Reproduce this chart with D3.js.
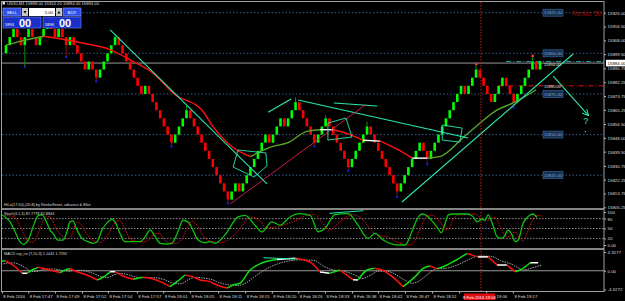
<!DOCTYPE html>
<html>
<head>
<meta charset="utf-8">
<script src="https://d3js.org/d3.v7.min.js"></script>
<style>
html, body { margin: 0; padding: 0; background: #000; }
svg { display: block; font-family: "Liberation Sans", Arial, sans-serif; }
</style>
</head>
<body>
<div id="chart"></div>
<script>
// renko bricks (box 5 pts) - close of each brick
var closes = [15905,15910,15915,15910,15905,15910,15915,15910,15905,15910,
  15915,15920,15915,15910,15915,15910,15905,15910,15905,15900,
  15895,15890,15895,15890,15885,15890,15895,15900,15905,15910,
  15905,15900,15895,15890,15885,15880,15875,15880,15875,15870,
  15865,15860,15855,15850,15845,15850,15855,15860,15865,15860,
  15855,15850,15845,15840,15835,15830,15825,15820,15815,15810,
  15815,15820,15815,15820,15825,15830,15835,15840,15845,15850,
  15845,15850,15855,15860,15855,15860,15865,15870,15865,15860,
  15855,15850,15845,15850,15855,15860,15855,15850,15845,15840,
  15835,15830,15835,15840,15845,15850,15855,15850,15845,15840,
  15835,15830,15825,15820,15815,15820,15825,15830,15835,15840,
  15845,15840,15835,15840,15845,15850,15855,15860,15865,15870,
  15875,15880,15875,15880,15885,15890,15885,15880,15875,15870,
  15875,15880,15885,15880,15875,15870,15875,15880,15885,15890,
  15895,15890,15895];

// wicks
var lowIdx  = [5, 16, 24, 44, 59, 82, 91, 104, 112, 135];
var lowVal  = [15892, 15898, 15883, 15843, 15808, 15843, 15828, 15812, 15832, 15867];
var highIdx = [11, 29, 48, 77, 85, 96, 125, 140];
var highVal = [15922, 15912, 15868, 15873, 15862, 15858, 15893, 15898];
var redMarkIdx = [125, 140];

// moving average
var maIdx = [0,4,10,20,28,34,39,45,52,55,60,65,71,75,80,83.5,87,91.5,95,99.5,104,108,112,115.5,121.5,126,130.5,135,141];
var maVal = [15905,15907.5,15910.5,15906.5,15902,15894.7,15888,15874.5,15865.4,15855,15842.7,15836.5,15842.7,15845,15852,15853,15853,15850,15846.5,15846,15841,15835.5,15835.5,15836.6,15848,15857,15865,15869.6,15877.6];

// price axis
var priceTicks = [15925.00,15916.50,15908.00,15899.50,15890.75,15882.25,15873.75,15865.25,15856.50,15848.00,15839.50,15830.75,15822.25,15813.75,15805.25];
var levelPrices = [15925, 15900, 15875, 15850, 15825];
var lastPrice = 15894.00;
var tpPrice = 15895;
var slPrice = 15880;

// stochastic
var stochIdx = [-1.6,1.1,2.4,3.7,4.5,5.9,7.2,8.5,9.6,10.9,11.7,12.5,13.8,15.2,16.2,17,17.8,18.9,20.2,21.8,
  23.1,24.2,25.5,27.1,28.2,29,30.3,31.6,33,34.8,35.6,37,38.3,39.6,41,42.8,44.1,45.7,47.1,48.4,
  49.7,51.1,52.9,54.3,55.6,58.2,61.7,63.6,66.2,68,70.7,72.9,75.5,78.2,80.9,83,84.8,87.5,91,93.6,
  96.3,98.1,100.3,102.9,104.8,106.2,107.4,108.8,110.1,110.9,112.2,113.5,114.9,115.7,116.8,117.6,118.9,122.6,124.2,125.3,
  126.6,127.4,128.2,129.3,130.6,131.9,132.7,133.5,134.6,135.4,136.2,137.5,138.8,140.1,141.2];
var stochMain = [94,70,40,10,2,15,55,88,91,66,45,35,15,15,40,70,73,45,20,10,
  5,10,45,70,78,70,35,10,10,10,10,25,45,27,5,3,5,40,75,70,
  45,15,7,10,5,30,85,90,60,40,70,60,85,95,90,40,50,92,95,60,
  20,35,15,2,0,0,25,66,91,94,86,70,50,37,66,91,94,94,86,70,
  78,75,91,66,25,20,30,45,30,10,15,66,86,94,84];
var stochSignal = [90,85,60,30,12,8,30,68,88,80,60,42,28,18,28,55,70,60,35,15,
  8,8,25,55,72,74,52,22,12,10,10,18,35,35,15,6,5,20,55,72,
  58,30,12,9,7,18,60,85,75,52,55,62,72,88,92,65,45,70,92,78,
  40,28,25,8,2,0,12,45,78,90,90,78,60,45,52,78,90,94,90,78,
  74,76,84,78,45,25,25,38,38,20,12,40,75,90,88];
var stochLevels = [80, 50, 20];
var stochTicks = [100, 80, 50, 20, 0];

// macd
var macdIdx = [-1.6,-0.3,1.1,2.4,4.3,5.6,6.9,8.5,9.8,11.7,14.4,16.2,17,18.9,21.5,24.2,25.8,27.7,29,31.1,
  33.8,36.4,38.3,41,43.6,45.5,47.6,49.5,51.6,54.3,55,58.8,60.4,62.2,64.9,68,72,76.9,80.9,83.5,
  86,88.8,92.3,93.6,96,98,100,105.6,106.9,108.8,110.9,112.8,113.6,114.6,116.2,118.9,122.6,124,125.5,128.2,
  130.6,133.2,135.4,136.7,139.4,141.5];
var macdVal = [2.08,2.3,1.7,0.93,-0.58,-0.58,0.17,0.79,0.56,0.17,-0.45,0.33,0.47,-0.22,-0.97,-2.12,-1.5,-0.22,-0.22,-1.2,
  -1.96,-1.5,-1.73,-2.51,-3.66,-2.51,-0.97,-1.36,-2.12,-2.51,-2.88,-4.0,-3.27,-2.88,0.17,1.8,2.6,2.9,2.0,-0.3,
  -0.6,0.17,-2.1,-2.12,0.17,0.6,0.17,-3.66,-2.8,-1.36,0.56,1.09,0.79,0.47,0.93,2.08,4.0,3.6,3.2,3.2,
  1.32,1.32,-0.22,0.17,1.85,1.85];
var macdSignal = [1.6,1.8,1.8,1.5,0.6,-0.1,-0.2,0.2,0.4,0.4,0.0,-0.1,0.1,0.1,-0.4,-1.3,-1.6,-1.0,-0.6,-0.8,
  -1.5,-1.6,-1.6,-2.0,-2.9,-3.0,-2.0,-1.5,-1.7,-2.2,-2.5,-3.3,-3.4,-3.1,-1.5,0.3,1.8,2.5,2.4,1.0,
  0.2,-0.1,-1.2,-1.8,-1.0,-0.1,-0.1,-2.4,-2.9,-2.4,-1.0,0.2,0.5,0.5,0.6,1.3,2.8,3.3,3.4,3.3,
  2.3,1.6,0.6,0.2,0.8,1.3];
var macdTicks = [4.3277, 0, -4.3272];

// time axis (the 18:59 label sits under the crosshair box in the reference)
var timeIdx = [-1.1,5.9,13,20.2,27.1,34.8,41.8,48.9,56.4,63.6,70.7,77.7,84.8,92,98.9,106.1,113.3,120.5,127.7,134.8];
var timeLabels = ["8 Feb 2016","8 Feb 17:47","8 Feb 17:49","8 Feb 17:52","8 Feb 17:54","8 Feb 17:57","8 Feb 18:01",
  "8 Feb 18:05","8 Feb 18:11","8 Feb 18:15","8 Feb 18:20","8 Feb 18:26","8 Feb 18:33","8 Feb 18:38","8 Feb 18:42",
  "8 Feb 18:47","8 Feb 18:52","","19:06","8 Feb 19:17"];
var crossIdx = 126.3;
var crossLabel = "8 Feb 2016 19:04";

// drawn objects: [barIndex, price]
var trendLines = [
  [[27.7, 15914.4], [69.4, 15819.6]],
  [[69.7, 15863.8], [75.8, 15871.9]],
  [[77.7, 15871.3], [122.9, 15847.9]],
  [[87.2, 15869.4], [98.7, 15867.6]],
  [[105.3, 15808.5], [150.8, 15899.6]]
];
var redTrend = [[59.6, 15807.3], [95.5, 15868.2]];
var arrowLine = [[145.5, 15886], [154.8, 15862]];
var boxes = [
  [[61.7,15840.5],[69.1,15838.7],[69.4,15830.7],[66,15823.9],[60.4,15830]],
  [[85.6,15857.1],[90.4,15860.2],[92,15848.5],[85.6,15846.6]],
  [[116,15855.9],[121.3,15854],[120.7,15845.4],[116,15846.6]]
];
var questionAt = [153.5, 15856.5];
var stochTrend = [[86, 96], [95, 104]];
var macdTrend = [[68.5, 3.0], [77.5, 2.7]];

var W = 625, H = 301, R = 604;
var svg = d3.select('#chart').append('svg')
  .attr('width', W).attr('height', H)
  .style('background', '#000');

var x = d3.scaleLinear().domain([0, closes.length - 1]).range([6, 540]);
var y = d3.scaleLinear().domain([15805.25, 15925]).range([207.3, 12.7]);
var yS = d3.scaleLinear().domain([0, 100]).range([245, 212]);
var yM = d3.scaleLinear().domain([-4.3272, 4.3277]).range([289.5, 252]);

var defs = svg.append('defs');
defs.append('clipPath').attr('id', 'cMain').append('rect').attr('x', 2).attr('y', 2).attr('width', R - 2).attr('height', 206);
defs.append('clipPath').attr('id', 'cSto').append('rect').attr('x', 2).attr('y', 210).attr('width', R - 2).attr('height', 38);
defs.append('clipPath').attr('id', 'cMacd').append('rect').attr('x', 2).attr('y', 250).attr('width', R - 2).attr('height', 41);
defs.append('marker').attr('id', 'arrow').attr('viewBox', '0 0 10 10').attr('refX', 9).attr('refY', 5)
  .attr('markerWidth', 6).attr('markerHeight', 6).attr('orient', 'auto')
  .append('path').attr('d', 'M0,0 L10,5 L0,10').attr('fill', 'none').attr('stroke', '#2ee6b0').attr('stroke-width', 1.5);

var main = svg.append('g').attr('clip-path', 'url(#cMain)');

// level lines
main.selectAll('.lvl').data(levelPrices).enter().append('line')
  .attr('x1', 2).attr('x2', R).attr('y1', d => y(d)).attr('y2', d => y(d))
  .attr('stroke', '#2d5f8f').attr('stroke-dasharray', '1.5,2');

// last price line
main.append('line').attr('x1', 2).attr('x2', R).attr('y1', y(lastPrice)).attr('y2', y(lastPrice))
  .attr('stroke', '#9a9a9a');
main.append('line').attr('x1', x(133)).attr('x2', R).attr('y1', y(tpPrice)).attr('y2', y(tpPrice))
  .attr('stroke', '#1fa0a0').attr('stroke-dasharray', '5,2,1,2');
main.append('line').attr('x1', x(131)).attr('x2', R).attr('y1', y(slPrice)).attr('y2', y(slPrice))
  .attr('stroke', '#e01010').attr('stroke-dasharray', '5,2,1,2');

// crosshair vertical
svg.append('line').attr('x1', x(crossIdx)).attr('x2', x(crossIdx)).attr('y1', 2).attr('y2', 292)
  .attr('stroke', '#d02020').attr('stroke-dasharray', '1.5,1.5');

// candles
var bw = 2.6;
var bars = closes.map(function(c, i) {
  var o = i > 0 ? closes[i - 1] : c - 5;
  return { i: i, o: o, c: c };
});
lowIdx.forEach(function(k, j) {
  var b = bars[k];
  main.append('line').attr('x1', x(k)).attr('x2', x(k))
    .attr('y1', y(Math.min(b.o, b.c))).attr('y2', y(lowVal[j]))
    .attr('stroke', b.c > b.o ? '#0a8a0a' : '#8a0a0a').attr('stroke-width', 1);
});
highIdx.forEach(function(k, j) {
  var b = bars[k];
  main.append('line').attr('x1', x(k)).attr('x2', x(k))
    .attr('y1', y(Math.max(b.o, b.c))).attr('y2', y(highVal[j]))
    .attr('stroke', b.c > b.o ? '#0a8a0a' : '#8a0a0a').attr('stroke-width', 1);
});
main.selectAll('.bar').data(bars).enter().append('rect')
  .attr('x', d => x(d.i) - bw / 2)
  .attr('y', d => y(Math.max(d.o, d.c)))
  .attr('width', bw)
  .attr('height', d => Math.abs(y(d.o) - y(d.c)))
  .attr('fill', d => d.c > d.o ? '#00ff00' : '#ff0000');

// markers
main.selectAll('.lowmk').data(lowIdx).enter().append('rect')
  .attr('x', d => x(d) - 1).attr('y', (d, j) => y(lowVal[j]) - 0.5)
  .attr('width', 2).attr('height', 2).attr('fill', '#1020ff');
main.selectAll('.highmk').data(redMarkIdx).enter().append('rect')
  .attr('x', d => x(d) - 1).attr('y', d => y(highVal[highIdx.indexOf(d)]) - 2)
  .attr('width', 2.5).attr('height', 2.5).attr('fill', '#ff3030');

// colored MA
function slopeColor(a, b, up, down) {
  var s = (b.v - a.v) / (b.i - a.i);
  if (s > 0.12) return up;
  if (s < -0.12) return down;
  return '#ffffff';
}
function coloredLine(g, idx, val, sx, sy, up, down, width) {
  var pts = idx.map((d, k) => ({ i: d, v: val[k] }));
  var line = d3.line().x(d => sx(d.i)).y(d => sy(d.v)).curve(d3.curveMonotoneX);
  var groups = [], cur = null;
  for (var k = 0; k < pts.length - 1; k++) {
    var col = slopeColor(pts[k], pts[k + 1], up, down);
    if (!cur || cur.col !== col) { cur = { col: col, pts: [pts[k]] }; groups.push(cur); }
    cur.pts.push(pts[k + 1]);
  }
  groups.forEach(function(gr) {
    g.append('path').datum(gr.pts).attr('d', line).attr('fill', 'none')
      .attr('stroke', gr.col).attr('stroke-width', width);
  });
}
coloredLine(main, maIdx, maVal, x, y, '#5aa628', '#ff1010', 1.4);

// drawn objects
var pLine = d3.line().x(d => x(d[0])).y(d => y(d[1]));
trendLines.forEach(function(t) {
  main.append('path').datum(t).attr('d', pLine).attr('stroke', '#2ee6b0').attr('stroke-width', 1.1).attr('fill', 'none');
});
main.append('path').datum(redTrend).attr('d', pLine).attr('stroke', '#e0204a').attr('stroke-width', 0.9).attr('fill', 'none');
main.append('path').datum(arrowLine).attr('d', pLine).attr('stroke', '#2ee6b0').attr('stroke-width', 1.1)
  .attr('fill', 'none').attr('marker-end', 'url(#arrow)');
boxes.forEach(function(b) {
  main.append('path').datum(b.concat([b[0]])).attr('d', pLine).attr('stroke', '#2ee6b0')
    .attr('stroke-width', 0.9).attr('fill', 'none');
});
main.append('text').attr('x', x(questionAt[0])).attr('y', y(questionAt[1]))
  .attr('fill', '#2ee6b0').attr('font-size', 9).text('?');
main.append('rect').attr('x', x(questionAt[0]) + 1.5).attr('y', y(questionAt[1]) + 7).attr('width', 1.2).attr('height', 1.2).attr('fill', '#2ee6b0');

// level labels
levelPrices.forEach(function(p) {
  svg.append('rect').attr('x', 543).attr('y', y(p) - 3.5).attr('width', 20).attr('height', 7)
    .attr('fill', '#16304f').attr('stroke', '#3b6fa6').attr('stroke-width', 0.6);
  svg.append('text').attr('x', 553).attr('y', y(p) + 1.6).attr('text-anchor', 'middle')
    .attr('font-size', 4.3).attr('fill', '#86a9d6').text(p.toFixed(2));
});
[lastPrice, slPrice].forEach(function(p) {
  svg.append('text').attr('x', 544).attr('y', y(p) + 2.5).attr('font-size', 4)
    .attr('fill', '#e0e0e0').text(p.toFixed(2));
});
svg.append('text').attr('x', 572).attr('y', 15.5).attr('font-size', 6.4).attr('fill', '#b00000').text('Renko: 50');

// right price axis
var yAxis = svg.append('g').attr('transform', 'translate(' + R + ',0)')
  .call(d3.axisRight(y).tickValues(priceTicks).tickSize(2).tickFormat(d => d.toFixed(2)));
yAxis.select('.domain').remove();
yAxis.selectAll('line').attr('stroke', '#bbb');
yAxis.selectAll('text').attr('fill', '#ddd').attr('font-size', 4.4).attr('x', 3.5);
svg.append('rect').attr('x', R + 2).attr('y', y(lastPrice) - 3.3).attr('width', 19).attr('height', 6.6).attr('fill', '#fff');
svg.append('text').attr('x', R + 3.5).attr('y', y(lastPrice) + 1.6).attr('font-size', 4.4).attr('fill', '#000').text(lastPrice.toFixed(2));

// indicator label in main
svg.append('text').attr('x', 4).attr('y', 206).attr('font-size', 3.8).attr('fill', '#ddd')
  .text('HiLo(17,50),(20,8) by RenkoStreet, advance & Elite');

// stochastic panel
var sto = svg.append('g').attr('clip-path', 'url(#cSto)');
sto.selectAll('.sl').data(stochLevels).enter().append('line')
  .attr('x1', 2).attr('x2', R).attr('y1', d => yS(d)).attr('y2', d => yS(d))
  .attr('stroke', '#8a8a8a').attr('stroke-dasharray', '1.5,1.5');
var sLine = d3.line().x(d => x(d.i)).y(d => yS(d.v)).curve(d3.curveMonotoneX);
sto.append('path').datum(stochIdx.map((d, k) => ({ i: d + 1.2, v: stochSignal[k] })))
  .attr('d', sLine).attr('fill', 'none').attr('stroke', '#d01010').attr('stroke-width', 1).attr('stroke-dasharray', '1.5,1');
sto.append('path').datum(stochIdx.map((d, k) => ({ i: d, v: stochMain[k] })))
  .attr('d', sLine).attr('fill', 'none').attr('stroke', '#10c010').attr('stroke-width', 1.3);
sto.append('path').datum(stochTrend).attr('d', d3.line().x(d => x(d[0])).y(d => yS(d[1])))
  .attr('stroke', '#2ee6b0').attr('fill', 'none');
svg.append('text').attr('x', 4).attr('y', 215).attr('font-size', 3.8).attr('fill', '#ddd')
  .text('Stoch(3,1,3) 87.7778 82.8844');
var sAxis = svg.append('g').attr('transform', 'translate(' + R + ',0)')
  .call(d3.axisRight(yS).tickValues(stochTicks).tickSize(2).tickFormat((d, k) => d === 0 ? '0.00' : d));
sAxis.select('.domain').remove();
sAxis.selectAll('line').attr('stroke', '#bbb');
sAxis.selectAll('text').attr('fill', '#ddd').attr('font-size', 4.4).attr('x', 3.5);

// macd panel
var mac = svg.append('g').attr('clip-path', 'url(#cMacd)');
mac.append('line').attr('x1', 2).attr('x2', R).attr('y1', yM(0)).attr('y2', yM(0)).attr('stroke', '#9a9a9a');
var mLine = d3.line().x(d => x(d.i)).y(d => yM(d.v)).curve(d3.curveMonotoneX);
mac.append('path').datum(macdIdx.map((d, k) => ({ i: d + 1, v: macdSignal[k] })))
  .attr('d', mLine).attr('fill', 'none').attr('stroke', '#a8a8a8').attr('stroke-width', 1).attr('stroke-dasharray', '1.5,1');
coloredLine(mac, macdIdx, macdVal, x, yM, '#10e010', '#ff1010', 1.5);
mac.append('path').datum(macdTrend).attr('d', d3.line().x(d => x(d[0])).y(d => yM(d[1])))
  .attr('stroke', '#2ee6b0').attr('fill', 'none');
svg.append('text').attr('x', 4).attr('y', 254.5).attr('font-size', 3.8).attr('fill', '#ddd')
  .text('MACD rsp_rsi (7,10,3) 1.1441 1.7392');
var mAxis = svg.append('g').attr('transform', 'translate(' + R + ',0)')
  .call(d3.axisRight(yM).tickValues(macdTicks).tickSize(2).tickFormat(d => d === 0 ? '0.00' : d.toFixed(4)));
mAxis.select('.domain').remove();
mAxis.selectAll('line').attr('stroke', '#bbb');
mAxis.selectAll('text').attr('fill', '#ddd').attr('font-size', 4.4).attr('x', 3.5);

// frame
svg.append('rect').attr('x', 1.5).attr('y', 1.5).attr('width', R - 1.5).attr('height', 290)
  .attr('fill', 'none').attr('stroke', '#a0a0a0');
[209, 249].forEach(function(v) {
  svg.append('line').attr('x1', 1.5).attr('x2', R).attr('y1', v).attr('y2', v)
    .attr('stroke', '#b0b0b0').attr('stroke-width', 1.6);
});

// time axis
var xAxis = svg.append('g').attr('transform', 'translate(0,291.5)')
  .call(d3.axisBottom(x).tickValues(timeIdx).tickSize(2).tickFormat((d, k) => timeLabels[k]));
xAxis.select('.domain').remove();
xAxis.selectAll('line').attr('stroke', '#bbb');
xAxis.selectAll('text').attr('fill', '#ddd').attr('font-size', 4.3).attr('text-anchor', 'start').attr('dx', 1).attr('y', 3);
var boxW = 31;
svg.append('rect').attr('x', x(crossIdx) - 17).attr('y', 293.5).attr('width', boxW).attr('height', 6.5).attr('fill', '#e01010');
svg.append('text').attr('x', x(crossIdx) - 17 + boxW / 2).attr('y', 298.5).attr('text-anchor', 'middle')
  .attr('font-size', 4.2).attr('fill', '#fff').text(crossLabel);
// push the partly hidden 19:06 label just past the box, as in the reference
xAxis.selectAll('.tick text').filter((d, k) => timeLabels[k] === '19:06')
  .attr('dx', x(crossIdx) - 17 + boxW + 1 - x(127.7));

// title
svg.append('rect').attr('x', 2.5).attr('y', 2).attr('width', 2.5).attr('height', 2.5).attr('fill', '#ddd');
svg.append('text').attr('x', 7).attr('y', 5.3).attr('font-size', 4.2).attr('fill', '#ddd')
  .text('US30,M1  15898.00 15914.20 15894.00 15894.00');

// one click trading panel
var tp = svg.append('g');
tp.append('rect').attr('x', 3).attr('y', 8).attr('width', 18).attr('height', 8).attr('fill', '#2f4fe8').attr('stroke', '#8da0ff').attr('stroke-width', 0.6);
tp.append('text').attr('x', 12).attr('y', 13.5).attr('text-anchor', 'middle').attr('font-size', 4.3).attr('fill', '#fff').text('SELL');
tp.append('rect').attr('x', 22).attr('y', 8).attr('width', 6).attr('height', 8).attr('fill', '#c8c8c8');
tp.append('path').attr('d', 'M23.5,11 L26.5,11 L25,13.5 Z').attr('fill', '#000');
tp.append('rect').attr('x', 29).attr('y', 8).attr('width', 26).attr('height', 8).attr('fill', '#fff');
tp.append('text').attr('x', 53).attr('y', 13.5).attr('text-anchor', 'end').attr('font-size', 4.3).attr('fill', '#000').text('5.00');
tp.append('rect').attr('x', 56).attr('y', 8).attr('width', 6).attr('height', 8).attr('fill', '#c8c8c8');
tp.append('path').attr('d', 'M57.5,13.5 L60.5,13.5 L59,11 Z').attr('fill', '#000');
tp.append('rect').attr('x', 63).attr('y', 8).attr('width', 18).attr('height', 8).attr('fill', '#2f4fe8').attr('stroke', '#8da0ff').attr('stroke-width', 0.6);
tp.append('text').attr('x', 72).attr('y', 13.5).attr('text-anchor', 'middle').attr('font-size', 4.3).attr('fill', '#fff').text('BUY');
[[3, '5894'], [43, '5896']].forEach(function(b) {
  tp.append('rect').attr('x', b[0]).attr('y', 17).attr('width', 38).attr('height', 11).attr('fill', '#1a2fc8').attr('stroke', '#6f86ff').attr('stroke-width', 0.6);
  tp.append('text').attr('x', b[0] + 2).attr('y', 26).attr('font-size', 4).attr('fill', '#fff').text(b[1]);
  tp.append('text').attr('x', b[0] + 16).attr('y', 27).attr('font-size', 11).attr('font-weight', 'bold').attr('fill', '#fff').text('00');
});
</script>
</body>
</html>
